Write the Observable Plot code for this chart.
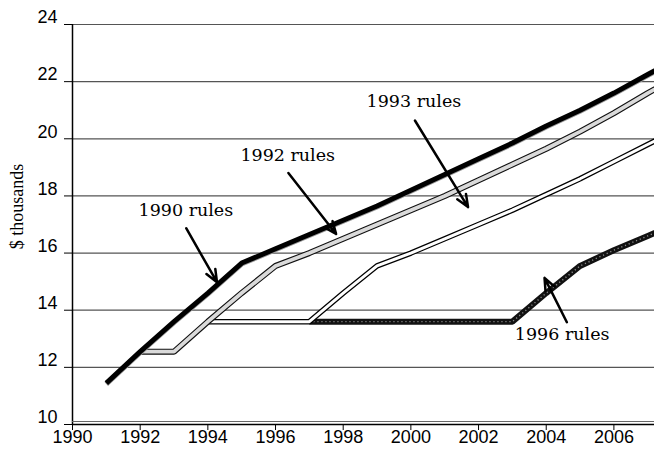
<!DOCTYPE html>
<html><head><meta charset="utf-8">
<script src="https://cdn.jsdelivr.net/npm/d3@7"></script>
<script src="https://cdn.jsdelivr.net/npm/@observablehq/plot@0.6"></script>
<style>html,body{margin:0;padding:0;background:#fff;}</style>
</head><body><div id="chart"></div>
<script>
// ---- data ----
const years1990 = [1991,1992,1993,1994,1995,1996,1997,1998,1999,2000,2001,2002,2003,2004,2005,2006,2007,2008];
const values1990 = [11.45,12.55,13.6,14.6,15.65,16.15,16.65,17.15,17.65,18.2,18.75,19.3,19.85,20.45,21.0,21.6,22.25,22.9];
const years1992 = [1992,1993,1994,1995,1996,1997,1998,1999,2000,2001,2002,2003,2004,2005,2006,2007,2008];
const values1992 = [12.55,12.55,13.6,14.6,15.55,16.0,16.5,17.0,17.5,18.0,18.55,19.1,19.65,20.25,20.9,21.6,22.25];
const years1993 = [1994,1995,1996,1997,1998,1999,2000,2001,2002,2003,2004,2005,2006,2007,2008];
const values1993 = [13.6,13.6,13.6,13.6,14.6,15.55,16.0,16.5,17.0,17.5,18.05,18.6,19.2,19.8,20.4];
const years1996 = [1997,1998,1999,2000,2001,2002,2003,2004,2005,2006,2007,2008];
const values1996 = [13.6,13.6,13.6,13.6,13.6,13.6,13.6,14.6,15.55,16.1,16.6,17.1];

const xTicks = [1990,1992,1994,1996,1998,2000,2002,2004,2006];
const yTicks = [10,12,14,16,18,20,22,24];

const labelText = ["1990 rules","1992 rules","1993 rules","1996 rules"];
const labelX = [1993.35,1996.36,2000.09,2004.47];
const labelY = [17.51,19.43,21.32,13.17];
const arrowX1 = [1993.36,1996.38,2000.12,2004.61];
const arrowY1 = [16.87,18.80,20.64,13.58];
const arrowX2 = [1994.27,1997.79,2001.69,2003.95];
const arrowY2 = [14.98,16.67,17.61,15.13];

const axisTitle = "$ thousands";

// ---- build tables ----
const s1990 = years1990.map((y,i)=>({year:y, v:values1990[i]}));
const s1992 = years1992.map((y,i)=>({year:y, v:values1992[i]}));
const s1993 = years1993.map((y,i)=>({year:y, v:values1993[i]}));
const s1996 = years1996.map((y,i)=>({year:y, v:values1996[i]}));
const labels = labelText.map((t,i)=>({t, x:labelX[i], y:labelY[i]}));
const arrows = arrowX1.map((x,i)=>({x1:x, y1:arrowY1[i], x2:arrowX2[i], y2:arrowY2[i]}));

const lineOpts = {x:"year", y:"v", curve:"linear", clip:true, strokeLinecap:"butt", strokeLinejoin:"miter"};
const serif = "DejaVu Serif";

const chart = Plot.plot({
  width: 654, height: 452,
  marginLeft: 72, marginRight: 0, marginTop: 24, marginBottom: 28,
  style: {fontFamily: "Liberation Sans, Arial, sans-serif", background: "#fff", color: "#000"},
  x: {domain: [1990, 2007.2]},
  y: {domain: [10, 24]},
  marks: [
    Plot.ruleY(yTicks.filter(d=>d>10), {stroke:"#555", strokeWidth:1.2}),
    // 1996 rules: hatched
    Plot.line(s1996, {...lineOpts, stroke:"#111", strokeWidth:6}),
    Plot.line(s1996, {...lineOpts, stroke:"#8a8a8a", strokeWidth:1.4, strokeDasharray:"1.2,2.8"}),
    // 1993 rules: white with black outline
    Plot.line(s1993, {...lineOpts, stroke:"#000", strokeWidth:5.5}),
    Plot.line(s1993, {...lineOpts, stroke:"#fff", strokeWidth:3}),
    // 1992 rules: light grey with black outline
    Plot.line(s1992, {...lineOpts, stroke:"#111", strokeWidth:6}),
    Plot.line(s1992, {...lineOpts, stroke:"#dadada", strokeWidth:3.8}),
    // 1990 rules: thick black
    Plot.line(s1990, {...lineOpts, stroke:"#999", strokeWidth:5, dy:1}),
    Plot.line(s1990, {...lineOpts, stroke:"#000", strokeWidth:5}),
    // axes
    Plot.ruleX([1990], {stroke:"#000", strokeWidth:1.5}),
    Plot.ruleY([10], {stroke:"#000", strokeWidth:1.5}),
    Plot.ruleY([10], {stroke:"#666", strokeWidth:1, dy:-3}),
    Plot.axisY(yTicks, {tickSize:8, tickFormat:()=>"", label:null}),
    Plot.axisY(yTicks, {tickSize:0, tickPadding:15, dy:-7, fontSize:18, tickFormat:d=>String(d), label:null}),
    Plot.axisX(xTicks, {tickSize:6, tickPadding:0, fontSize:18, tickFormat:d=>String(d), label:null}),
    Plot.text([axisTitle], {text:d=>d, frameAnchor:"left", textAnchor:"middle", dx:-55, dy:-18, rotate:-90, fontFamily:"Liberation Serif", fontSize:18, fill:"#000"}),
    // annotations
    Plot.arrow(arrows, {x1:"x1", y1:"y1", x2:"x2", y2:"y2", stroke:"#000", strokeWidth:2.5, headLength:8, headAngle:45}),
    Plot.text(labels, {x:"x", y:"y", text:"t", fontFamily:serif, fontSize:17.5, fill:"#000"})
  ]
});
document.getElementById("chart").appendChild(chart);
</script>
</body></html>
